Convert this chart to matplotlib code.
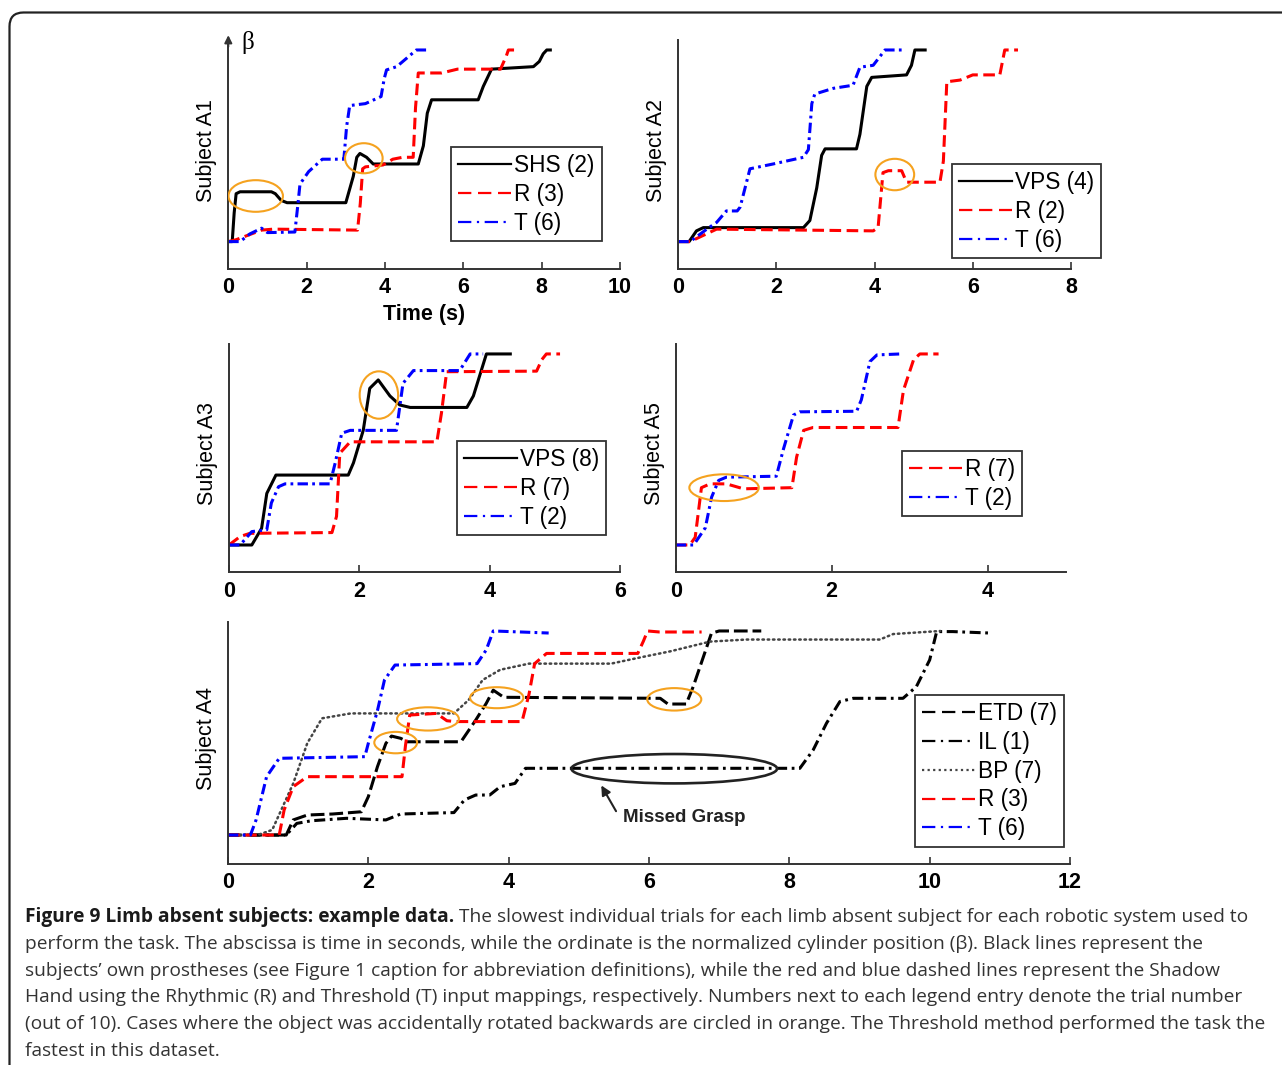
import matplotlib
matplotlib.use("Agg")
import matplotlib.pyplot as plt
from matplotlib.patches import Ellipse, FancyBboxPatch
from matplotlib.lines import Line2D
from matplotlib.transforms import IdentityTransform

# ---- data (time in s, normalized cylinder position beta) ----
# Subject A1
a1_shs_t = [0, 0.1, 0.15, 0.2, 0.3, 1.1, 1.2, 1.35, 1.5, 3.0, 3.19, 3.28, 3.36, 3.53, 3.7, 4.85, 4.98, 5.08, 5.19, 6.38, 6.51, 6.72, 7.79, 7.94, 8.04, 8.13, 8.26]
a1_shs_b = [0, 0, 0.15, 0.25, 0.26, 0.26, 0.25, 0.215, 0.203, 0.203, 0.34, 0.44, 0.46, 0.44, 0.405, 0.405, 0.5, 0.67, 0.74, 0.74, 0.81, 0.9, 0.913, 0.94, 0.98, 1.0, 1.0]
a1_r_t = [0, 0.2, 0.85, 1.15, 3.3, 3.37, 3.43, 3.5, 3.95, 4.2, 4.45, 4.72, 4.78, 4.85, 5.45, 5.85, 6.95, 7.1, 7.15, 7.32]
a1_r_b = [0, 0.01, 0.06, 0.065, 0.06, 0.2, 0.38, 0.39, 0.4, 0.43, 0.44, 0.44, 0.7, 0.88, 0.88, 0.9, 0.9, 0.97, 1.0, 1.0]
a1_t_t = [0, 0.3, 0.55, 0.85, 1.0, 1.7, 1.78, 1.83, 2.05, 2.4, 2.95, 3.02, 3.1, 3.5, 3.9, 3.98, 4.04, 4.3, 4.8, 5.06]
a1_t_b = [0, 0.0, 0.04, 0.07, 0.047, 0.05, 0.2, 0.3, 0.365, 0.43, 0.43, 0.6, 0.71, 0.72, 0.757, 0.85, 0.896, 0.913, 1.0, 1.0]

# Subject A2
a2_vps_t = [0, 0.22, 0.37, 0.51, 2.55, 2.68, 2.82, 2.92, 2.99, 3.63, 3.70, 3.84, 3.94, 4.65, 4.75, 4.82, 5.06]
a2_vps_b = [0, 0, 0.056, 0.073, 0.073, 0.11, 0.28, 0.45, 0.484, 0.484, 0.56, 0.81, 0.857, 0.87, 0.92, 1.0, 1.0]
a2_r_t = [0, 0.24, 0.78, 3.97, 4.07, 4.17, 4.28, 4.55, 4.65, 5.33, 5.40, 5.47, 5.74, 6.0, 6.55, 6.65, 6.92]
a2_r_b = [0, 0, 0.065, 0.056, 0.073, 0.36, 0.37, 0.37, 0.31, 0.31, 0.42, 0.834, 0.843, 0.87, 0.87, 1.0, 1.0]
a2_t_t = [0, 0.24, 0.58, 0.78, 0.98, 1.2, 1.26, 1.46, 1.93, 2.55, 2.65, 2.72, 2.78, 3.16, 3.56, 3.70, 3.97, 4.21, 4.58]
a2_t_b = [0, 0, 0.065, 0.1, 0.16, 0.16, 0.18, 0.38, 0.405, 0.44, 0.48, 0.72, 0.77, 0.80, 0.816, 0.91, 0.92, 1.0, 1.0]

# Subject A3
a3_vps_t = [0, 0.35, 0.5, 0.58, 0.72, 1.83, 1.91, 2.06, 2.16, 2.29, 2.47, 2.62, 2.78, 3.65, 3.75, 3.95, 4.34]
a3_vps_b = [0, 0, 0.087, 0.27, 0.366, 0.366, 0.43, 0.60, 0.82, 0.864, 0.78, 0.733, 0.72, 0.72, 0.78, 1.0, 1.0]
a3_r_t = [0, 0.17, 0.32, 1.58, 1.65, 1.70, 1.86, 3.19, 3.26, 3.34, 4.72, 4.80, 4.87, 5.08]
a3_r_b = [0, 0.044, 0.061, 0.065, 0.15, 0.48, 0.54, 0.54, 0.69, 0.907, 0.91, 0.97, 1.0, 1.0]
a3_t_t = [0, 0.17, 0.35, 0.58, 0.65, 0.76, 0.86, 1.55, 1.63, 1.73, 1.86, 2.57, 2.67, 2.83, 3.54, 3.70, 3.90]
a3_t_b = [0, 0, 0.07, 0.08, 0.22, 0.305, 0.32, 0.32, 0.43, 0.585, 0.60, 0.60, 0.846, 0.913, 0.913, 1.0, 1.0]

# Subject A5
a5_r_t = [0, 0.18, 0.25, 0.33, 0.44, 0.65, 0.87, 1.49, 1.55, 1.64, 1.76, 2.85, 2.92, 3.05, 3.13, 3.37]
a5_r_b = [0, 0, 0.04, 0.30, 0.32, 0.32, 0.294, 0.30, 0.46, 0.60, 0.615, 0.615, 0.81, 0.97, 1.0, 1.0]
a5_t_t = [0, 0.23, 0.38, 0.46, 0.55, 0.65, 1.29, 1.38, 1.51, 1.59, 2.32, 2.38, 2.49, 2.58, 2.88]
a5_t_b = [0, 0, 0.09, 0.25, 0.338, 0.355, 0.36, 0.5, 0.68, 0.697, 0.70, 0.76, 0.96, 0.995, 1.0]

# Subject A4
a4_etd_t = [0, 0.83, 0.93, 1.13, 1.49, 1.90, 2.0, 2.13, 2.25, 2.33, 2.46, 2.56, 3.32, 3.53, 3.68, 3.78, 3.93, 6.16, 6.27, 6.53, 6.63, 6.89, 7.0, 7.6]
a4_etd_b = [0, 0, 0.074, 0.098, 0.103, 0.114, 0.188, 0.335, 0.449, 0.485, 0.474, 0.457, 0.457, 0.563, 0.645, 0.71, 0.675, 0.67, 0.642, 0.642, 0.727, 0.989, 1.0, 1.0]
a4_il_t = [0, 0.83, 0.98, 1.19, 1.69, 2.25, 2.46, 3.22, 3.37, 3.53, 3.73, 3.88, 4.09, 4.24, 4.39, 8.15, 8.34, 8.53, 8.72, 8.91, 9.62, 9.81, 10.0, 10.1, 10.33, 10.85]
a4_il_b = [0, 0, 0.057, 0.07, 0.082, 0.074, 0.103, 0.11, 0.172, 0.196, 0.196, 0.237, 0.253, 0.327, 0.327, 0.327, 0.417, 0.548, 0.654, 0.67, 0.67, 0.727, 0.858, 0.997, 0.997, 0.99]
a4_bp_t = [0, 0.42, 0.63, 0.93, 1.13, 1.34, 1.75, 3.22, 3.43, 3.63, 3.88, 4.29, 5.46, 5.87, 6.3, 6.87, 7.39, 9.29, 9.48, 10.15]
a4_bp_b = [0, 0, 0.025, 0.253, 0.45, 0.572, 0.596, 0.596, 0.662, 0.76, 0.81, 0.84, 0.84, 0.87, 0.9, 0.948, 0.958, 0.958, 0.985, 1.0]
a4_r_t = [0, 0.73, 0.80, 0.93, 1.13, 2.48, 2.53, 2.59, 2.97, 3.12, 3.25, 4.19, 4.29, 4.37, 4.54, 5.84, 5.92, 5.98, 6.15, 6.75]
a4_r_b = [0, 0, 0.123, 0.237, 0.286, 0.286, 0.44, 0.588, 0.596, 0.56, 0.556, 0.556, 0.69, 0.84, 0.89, 0.89, 0.95, 1.0, 0.995, 0.995]
a4_t_t = [0, 0.32, 0.40, 0.55, 0.73, 1.95, 2.0, 2.13, 2.23, 2.38, 3.55, 3.68, 3.78, 4.57]
a4_t_b = [0, 0, 0.074, 0.286, 0.376, 0.384, 0.45, 0.61, 0.76, 0.833, 0.84, 0.907, 1.0, 0.99]

# orange rings (centre t, centre beta, width, height)
a1_rings = [(0.70, 0.238, 1.39, 0.165), (3.46, 0.435, 0.96, 0.157)]
a2_rings = [(4.41, 0.35, 0.79, 0.164)]
a3_rings = [(2.30, 0.785, 0.59, 0.248)]
a5_rings = [(0.62, 0.30, 0.89, 0.14)]
a4_rings = [(2.39, 0.453, 0.61, 0.105), (2.85, 0.569, 0.88, 0.114),
            (3.83, 0.673, 0.76, 0.103), (6.36, 0.665, 0.77, 0.11)]
a4_missed = (6.36, 0.325, 2.93, 0.144)

caption_bold = "Figure 9 Limb absent subjects: example data."
caption_lines = [
    " The slowest individual trials for each limb absent subject for each robotic system used to",
    "perform the task. The abscissa is time in seconds, while the ordinate is the normalized cylinder position (\u03b2). Black lines represent the",
    "subjects\u2019 own prostheses (see Figure 1 caption for abbreviation definitions), while the red and blue dashed lines represent the Shadow",
    "Hand using the Rhythmic (R) and Threshold (T) input mappings, respectively. Numbers next to each legend entry denote the trial number",
    "(out of 10). Cases where the object was accidentally rotated backwards are circled in orange. The Threshold method performed the task the",
    "fastest in this dataset.",
]

# ---- styles ----
W, H = 1282, 1065
RED = '#ff0000'
BLUE = '#0000ff'
ORANGE = '#f5a21f'
AXC = '#333333'
LW = 2.2
FS = 15.5
FS_LEG = 16.3

sty = {
    'solid': dict(color='k', ls='-'),
    'r': dict(color=RED, ls=(0, (3.8, 1.8))),
    't': dict(color=BLUE, ls=(0, (3.4, 1.4, 0.9, 1.4))),
    'etd': dict(color='k', ls=(0, (4.5, 1.6))),
    'il': dict(color='k', ls=(0, (3.6, 1.5, 0.9, 1.5))),
    'bp': dict(color='#444444', ls=(0, (0.6, 1.5))),
}
leg_sty = {
    'solid': dict(color='k', ls='-'),
    'r': dict(color=RED, ls=(0, (6, 3))),
    't': dict(color=BLUE, ls=(0, (6, 2.5, 1, 2.5))),
    'etd': dict(color='k', ls=(0, (6, 3))),
    'il': dict(color='k', ls=(0, (6, 2.5, 1, 2.5))),
    'bp': dict(color='#444444', ls=(0, (1, 1.5))),
}

plt.rcParams['font.family'] = ['Liberation Sans', 'DejaVu Sans']

fig = plt.figure(figsize=(W / 100, H / 100), dpi=100)


def make_axes(x0, x1, ytop, ybot, xmax, ticks, ylim):
    ax = fig.add_axes([x0 / W, 1 - ybot / H, (x1 - x0) / W, (ybot - ytop) / H])
    ax.patch.set_alpha(0)
    ax.set_xlim(0, xmax)
    ax.set_ylim(*ylim)
    ax.spines['top'].set_visible(False)
    ax.spines['right'].set_visible(False)
    for s in ['left', 'bottom']:
        ax.spines[s].set_linewidth(1.4)
        ax.spines[s].set_color(AXC)
    ax.set_xticks(ticks)
    ax.set_yticks([])
    ax.tick_params(axis='x', direction='in', length=5, width=1.2, color=AXC,
                   pad=6, labelsize=FS)
    for lab in ax.get_xticklabels():
        lab.set_fontweight('bold')
    return ax


def side_label(ax, text, width_px):
    ax.text(-21.5 / width_px, 0.52, text, rotation=90, ha='center', va='center',
            fontsize=FS, transform=ax.transAxes)


def draw(ax, t, b, key):
    ax.plot(t, b, lw=LW, solid_capstyle='butt', dash_capstyle='butt', **sty[key])


def rings(ax, ring_list, color=ORANGE, lw=1.5):
    for cx, cy, w, h in ring_list:
        ax.add_patch(Ellipse((cx, cy), w, h, fill=False, ec=color, lw=lw, zorder=5))


def legend(ax, keys, labels, x, y):
    handles = [Line2D([], [], lw=1.6, **leg_sty[k]) for k in keys]
    leg = ax.legend(handles, labels, loc='upper left', bbox_to_anchor=(x / W, 1 - y / H),
                    bbox_transform=fig.transFigure, borderaxespad=0, fontsize=FS_LEG,
                    frameon=True, fancybox=False, framealpha=1, edgecolor=AXC,
                    handlelength=2.35, handletextpad=0.15, labelspacing=0.26,
                    borderpad=0.3)
    leg.get_frame().set_linewidth(1.3)
    return leg


ylim_top = (-0.143, 1.05)

# ---- Subject A1 ----
ax1 = make_axes(228.3, 620, 40.4, 269, 10, [0, 2, 4, 6, 8, 10], ylim_top)
draw(ax1, a1_shs_t, a1_shs_b, 'solid')
draw(ax1, a1_r_t, a1_r_b, 'r')
draw(ax1, a1_t_t, a1_t_b, 't')
rings(ax1, a1_rings)
legend(ax1, ['solid', 'r', 't'], ['SHS (2)', 'R (3)', 'T (6)'], 451, 147)
side_label(ax1, 'Subject A1', 391.7)
ax1.text(0.5, -0.197, 'Time (s)', ha='center', va='center', fontsize=FS,
         fontweight='bold', transform=ax1.transAxes)
ax1.annotate('', xy=(0, 1.035), xytext=(0, 0.96), xycoords='axes fraction',
             arrowprops=dict(arrowstyle='-|>', color=AXC, lw=1.4, mutation_scale=11))
ax1.text(0.05, 0.99, '\u03b2', ha='center', va='center', fontsize=18,
         family='Liberation Serif', transform=ax1.transAxes)

# ---- Subject A2 ----
ax2 = make_axes(678.3, 1071, 40.4, 269, 8, [0, 2, 4, 6, 8], ylim_top)
draw(ax2, a2_vps_t, a2_vps_b, 'solid')
draw(ax2, a2_r_t, a2_r_b, 'r')
draw(ax2, a2_t_t, a2_t_b, 't')
rings(ax2, a2_rings)
legend(ax2, ['solid', 'r', 't'], ['VPS (4)', 'R (2)', 'T (6)'], 952, 164)
side_label(ax2, 'Subject A2', 392.7)

# ---- Subject A3 ----
ax3 = make_axes(229, 620, 344.4, 572.3, 6, [0, 2, 4, 6], ylim_top)
draw(ax3, a3_vps_t, a3_vps_b, 'solid')
draw(ax3, a3_r_t, a3_r_b, 'r')
draw(ax3, a3_t_t, a3_t_b, 't')
rings(ax3, a3_rings)
legend(ax3, ['solid', 'r', 't'], ['VPS (8)', 'R (7)', 'T (2)'], 457, 441)
side_label(ax3, 'Subject A3', 391)

# ---- Subject A5 ----
ax5 = make_axes(675.7, 1065.7, 344.4, 572.3, 5, [0, 2, 4], ylim_top)
draw(ax5, a5_r_t, a5_r_b, 'r')
draw(ax5, a5_t_t, a5_t_b, 't')
rings(ax5, a5_rings)
legend(ax5, ['r', 't'], ['R (7)', 'T (2)'], 902, 451)
side_label(ax5, 'Subject A5', 390)

# ---- Subject A4 ----
ax4 = make_axes(228, 1070, 622, 864, 12, [0, 2, 4, 6, 8, 10, 12], (-0.142, 1.044))
draw(ax4, a4_etd_t, a4_etd_b, 'etd')
draw(ax4, a4_il_t, a4_il_b, 'il')
ax4.plot(a4_bp_t, a4_bp_b, lw=1.8, dash_capstyle='round', **sty['bp'])
draw(ax4, a4_r_t, a4_r_b, 'r')
draw(ax4, a4_t_t, a4_t_b, 't')
rings(ax4, a4_rings)
rings(ax4, [a4_missed], color='#222222', lw=1.9)
ax4.annotate('', xy=(5.30, 0.255), xytext=(5.55, 0.105),
             arrowprops=dict(arrowstyle='-|>', color='#222222', lw=1.5, mutation_scale=14))
ax4.text(5.63, 0.088, 'Missed Grasp', ha='left', va='center', fontsize=13.5,
         fontweight='bold', color='#222222')
legend(ax4, ['etd', 'il', 'bp', 'r', 't'],
       ['ETD (7)', 'IL (1)', 'BP (7)', 'R (3)', 'T (6)'], 915, 695)
side_label(ax4, 'Subject A4', 842)

# ---- frame and caption ----
frame = FancyBboxPatch((9.5, -60), 1400, H - 12.5 + 60,
                       boxstyle='round,pad=0,rounding_size=14',
                       transform=IdentityTransform(), fill=False, lw=1.6, ec='#222222')
fig.add_artist(frame)

cap_font = 'Open Sans'
cap_size = 13.8
line_gap = 26.8
base0 = 922
bold = fig.text(25 / W, 1 - base0 / H, caption_bold, fontsize=cap_size, family=cap_font,
                fontweight='bold', color='#1a1a1a', va='baseline')
fig.canvas.draw()
bb = bold.get_window_extent()
fig.text(bb.x1 / W, 1 - base0 / H, caption_lines[0], fontsize=cap_size, family=cap_font,
         color='#333333', va='baseline')
for i, line in enumerate(caption_lines[1:], start=1):
    fig.text(25 / W, 1 - (base0 + i * line_gap) / H, line, fontsize=cap_size,
             family=cap_font, color='#333333', va='baseline')

fig.savefig('out.png', dpi=100)
